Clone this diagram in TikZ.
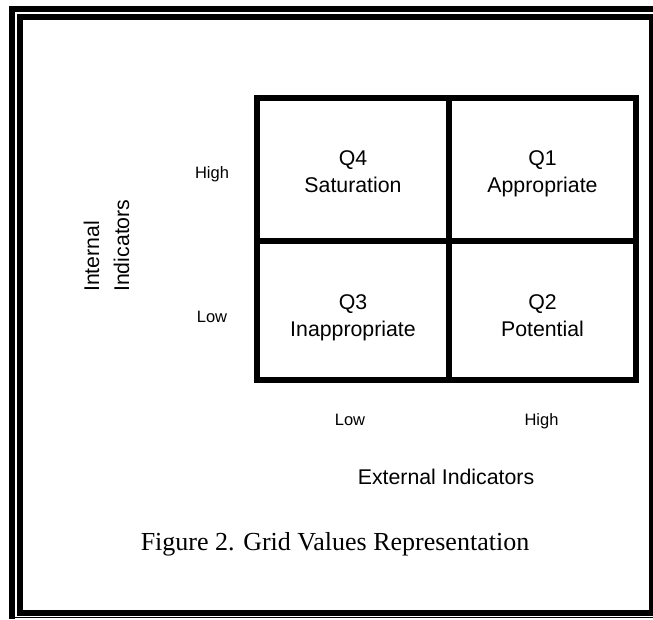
\documentclass[tikz,border=0pt]{standalone}
\usepackage{fontspec}
\setmainfont{Liberation Sans}
\newfontfamily\capfont{Liberation Serif}
\tikzset{
  x=1pt,y=1pt,
  big/.style={font=\fontsize{21.3}{27}\selectfont, inner sep=0pt, anchor=base},
  small/.style={font=\fontsize{16.5}{20}\selectfont, inner sep=0pt, anchor=base},
  gridline/.style={line width=6pt, line cap=rect},
}
\begin{document}
\begin{tikzpicture}
\useasboundingbox (0,0) rectangle (653,619);
% frame
\fill[black] (9,0) rectangle (15,613);
\fill[black] (9,607) rectangle (660,613);
\draw[line width=6pt] (20,6) rectangle (652,602);
\draw[line width=1.5pt] (15,1.3) -- (660,1.3);
% grid
\coordinate (g1) at (257,521);
\coordinate (g2) at (636,239);
\draw[gridline] (g1) rectangle (g2);
\coordinate (vt) at (449,521);
\coordinate (vb) at (449,239);
\coordinate (hl) at (257,378);
\coordinate (hr) at (636,378);
\draw[gridline] (vt) -- (vb);
\draw[gridline] (hl) -- (hr);
% cell texts
\node[big] (q4a) at (353,453) {Q4};
\node[big] (q4b) at (353,426) {Saturation};
\node[big] (q1a) at (542.5,453) {Q1};
\node[big] (q1b) at (542.5,426) {Appropriate};
\node[big] (q3a) at (353,309) {Q3};
\node[big] (q3b) at (353,282) {Inappropriate};
\node[big] (q2a) at (542.5,309) {Q2};
\node[big] (q2b) at (542.5,282) {Potential};
% axis labels
\node[small] (yh) at (212,440) {High};
\node[small] (yl) at (212,296) {Low};
\node[small] (xl) at (350,194) {Low};
\node[small] (xh) at (541.5,194) {High};
\node[big] (xt) at (446,135) {External Indicators};
\node[big, rotate=90, anchor=base west] (yt1) at (99,327) {Internal};
\node[big, rotate=90, anchor=base west] (yt2) at (129,327) {Indicators};
% caption
\node[font=\capfont\fontsize{26}{30}\selectfont, inner sep=0pt, anchor=base] (cap) at (335,69) {Figure 2. Grid Values Representation};
\end{tikzpicture}
\end{document}
